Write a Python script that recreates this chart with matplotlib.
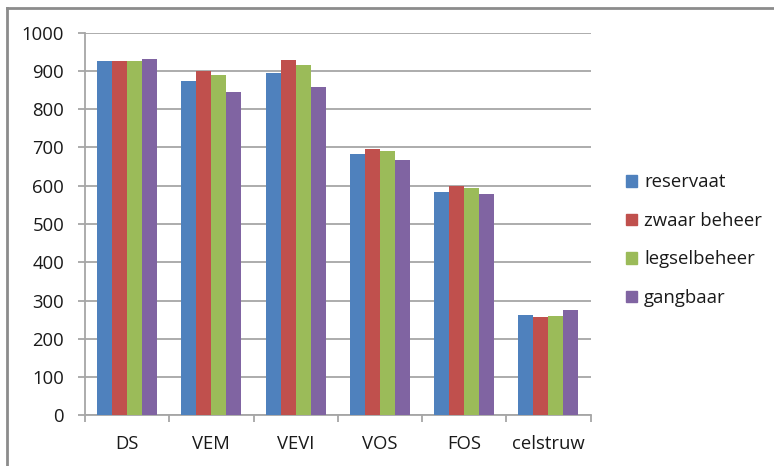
import numpy as np
import matplotlib
matplotlib.use("Agg")
import matplotlib.pyplot as plt
from matplotlib.lines import Line2D

categories = ["DS", "VEM", "VEVI", "VOS", "FOS", "celstruw"]
series_names = ["reservaat", "zwaar beheer", "legselbeheer", "gangbaar"]
reservaat = [927, 875, 894, 683, 583, 263]
zwaar_beheer = [927, 901, 929, 696, 599, 257]
legselbeheer = [927, 890, 915, 690, 593, 259]
gangbaar = [932, 846, 859, 668, 578, 275]
y_ticks = [0, 100, 200, 300, 400, 500, 600, 700, 800, 900, 1000]

colors = ["#4F81BD", "#C0504D", "#9BBB59", "#8064A2"]
series = [reservaat, zwaar_beheer, legselbeheer, gangbaar]

plt.rcParams["font.family"] = ["Open Sans", "DejaVu Sans"]
FS = 13.3
TXT = "#1a1a1a"

W, H = 774, 466
fig = plt.figure(figsize=(W / 100, H / 100), dpi=100)
ax = fig.add_axes([85 / W, 1 - 415.3 / H, (590.5 - 85) / W, (415.3 - 32.7) / H])

x = np.arange(len(categories))
group = 0.71
bw = group / len(series)
for i, (vals, col, name) in enumerate(zip(series, colors, series_names)):
    offs = -group / 2 + bw * (i + 0.5)
    ax.bar(x + offs, vals, width=bw, color=col, label=name, zorder=3, linewidth=0)

ax.set_xlim(-0.5, len(categories) - 0.5)
ax.set_ylim(0, 1000)
ax.set_yticks(y_ticks)
ax.set_yticklabels([str(v) for v in y_ticks], fontsize=FS, color=TXT)
ax.yaxis.grid(True, color="#A6A6A6", linewidth=1.3, zorder=0)
ax.set_axisbelow(True)

ax.set_xticks(x)
ax.set_xticklabels(categories, fontsize=FS, color=TXT)
ax.tick_params(axis="x", which="major", length=0, pad=14)
ax.set_xticks(np.arange(-0.5, len(categories)), minor=True)
ax.tick_params(axis="x", which="minor", length=5, color="#A6A6A6", width=1.3, direction="out")
ax.tick_params(axis="y", length=5, color="#A6A6A6", width=1.3, pad=10)

for s in ["top", "right"]:
    ax.spines[s].set_visible(False)
for s in ["left", "bottom"]:
    ax.spines[s].set_color("#A6A6A6")
    ax.spines[s].set_linewidth(1.3)

handles = [plt.Rectangle((0, 0), 1, 1, color=c) for c in colors]
fig.legend(handles, series_names, loc="upper left", bbox_to_anchor=(619 / W, 1 - 166 / H),
           frameon=False, fontsize=FS, handlelength=0.6, handleheight=0.6,
           handletextpad=0.35, labelspacing=1.11, borderaxespad=0, labelcolor=TXT)

# outer chart frame
fig.add_artist(Line2D([7 / W, 1], [1 - 8 / H, 1 - 8 / H], color="#8C8C8C", linewidth=2))
fig.add_artist(Line2D([7 / W, 7 / W], [0, 1 - 8 / H], color="#8C8C8C", linewidth=2))

fig.savefig("out.png", dpi=100)
